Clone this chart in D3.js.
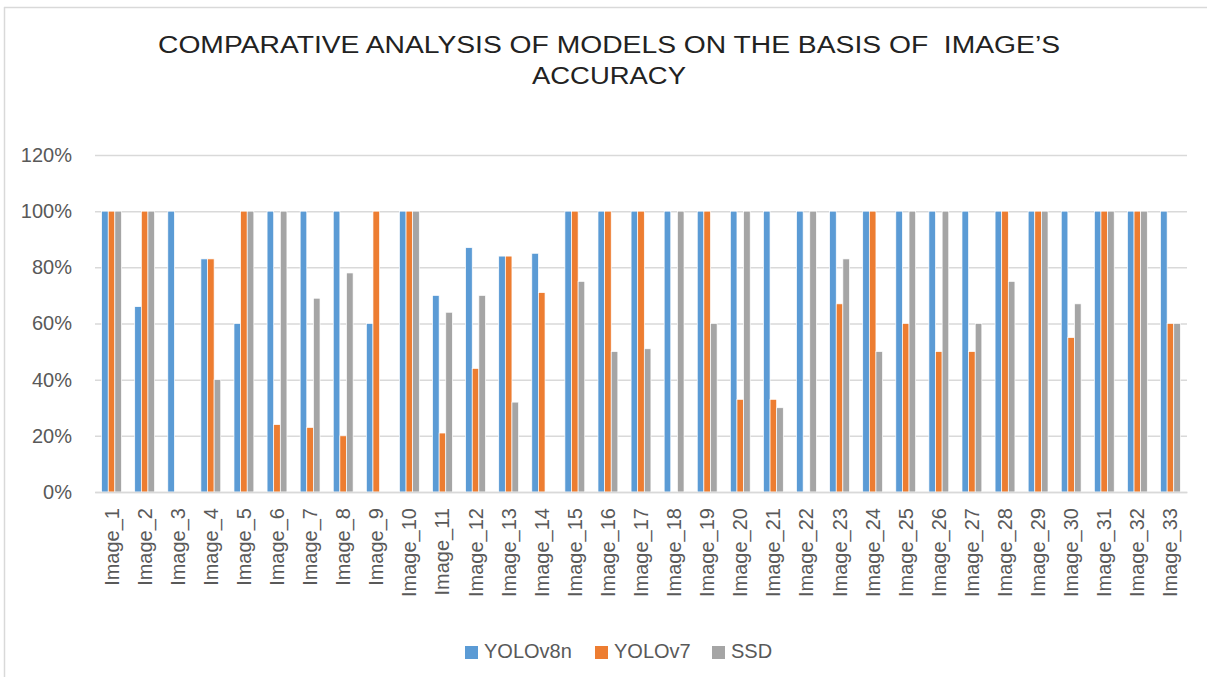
<!DOCTYPE html>
<html>
<head>
<meta charset="utf-8">
<script src="https://cdn.jsdelivr.net/npm/d3@7"></script>
<style>
  html, body { margin: 0; padding: 0; background: #fff; }
  svg { display: block; }
  text { font-family: "Liberation Sans", Arial, sans-serif; }
</style>
</head>
<body>
<svg id="chart" width="1207" height="677"></svg>
<script>
const categories = Array.from({length: 33}, (_, i) => "Image_" + (i + 1));
const seriesNames = ["YOLOv8n", "YOLOv7", "SSD"];
const yolov8n = [100, 66, 100, 83, 60, 100, 100, 100, 60, 100, 70, 87, 84, 85, 100, 100, 100, 100, 100, 100, 100, 100, 100, 100, 100, 100, 100, 100, 100, 100, 100, 100, 100];
const yolov7  = [100, 100, 0, 83, 100, 24, 23, 20, 100, 100, 21, 44, 84, 71, 100, 100, 100, 0, 100, 33, 33, 0, 67, 100, 60, 50, 50, 100, 100, 55, 100, 100, 60];
const ssd     = [100, 100, 0, 40, 100, 100, 69, 78, 0, 100, 64, 70, 32, 0, 75, 50, 51, 100, 60, 100, 30, 100, 83, 50, 100, 100, 60, 75, 100, 67, 100, 100, 60];
const yTicks = [0, 20, 40, 60, 80, 100, 120];
const colors = ["#5b9bd5", "#ed7d31", "#a5a5a5"];
const titleLines = ["COMPARATIVE ANALYSIS OF MODELS ON THE BASIS OF  IMAGE\u2019S", "ACCURACY"];
const titleWidths = [902, 154];

const svg = d3.select("#chart");
const seriesValues = [yolov8n, yolov7, ssd];

// frame
svg.append("line").attr("x1", 4).attr("x2", 1207).attr("y1", 7.5).attr("y2", 7.5)
  .attr("stroke", "#d9d9d9").attr("stroke-width", 1.5);
svg.append("line").attr("x1", 4.5).attr("x2", 4.5).attr("y1", 7).attr("y2", 677)
  .attr("stroke", "#d9d9d9").attr("stroke-width", 1.5);

// title
svg.append("g").selectAll("text").data(titleLines).join("text")
  .attr("x", 609).attr("y", (d, i) => 53 + i * 31)
  .attr("text-anchor", "middle")
  .attr("font-size", 23.5).attr("fill", "#222")
  .attr("textLength", (d, i) => titleWidths[i])
  .attr("lengthAdjust", "spacingAndGlyphs")
  .style("white-space", "pre")
  .text(d => d);

const y = d3.scaleLinear().domain([0, 120]).range([492, 155]);
const x = d3.scaleBand().domain(categories).range([95, 1187]).padding(0);
const xs = d3.scaleBand().domain(seriesNames)
  .range([x.bandwidth() * 0.2, x.bandwidth() * 0.8]).padding(0);

// gridlines
const yAxis = d3.axisLeft(y).tickValues(yTicks).tickSize(-(1187 - 95)).tickFormat(d => d + "%");
const gy = svg.append("g").attr("transform", "translate(95,0)").call(yAxis);
gy.select(".domain").remove();
gy.selectAll(".tick line").attr("stroke", "#d9d9d9").attr("stroke-width", 1.5);
gy.selectAll(".tick text").attr("x", -23).attr("font-size", 20).attr("fill", "#595959")
  .attr("font-family", "Liberation Sans, Arial, sans-serif");

// bars
const groups = svg.append("g").selectAll("g").data(categories).join("g")
  .attr("transform", d => `translate(${x(d)},0)`);
groups.selectAll("rect")
  .data((c, i) => seriesNames.map((s, k) => ({s, v: seriesValues[k][i], k})))
  .join("rect")
  .attr("x", d => xs(d.s))
  .attr("width", xs.bandwidth())
  .attr("y", d => y(d.v))
  .attr("height", d => y(0) - y(d.v))
  .attr("fill", d => colors[d.k])
  .attr("stroke", "#fff").attr("stroke-width", 0.7);

// x axis
const xAxis = d3.axisBottom(x).tickSize(0);
const gx = svg.append("g").attr("transform", "translate(0,492)").call(xAxis);
gx.select(".domain").attr("stroke", "#d9d9d9").attr("stroke-width", 1.5);
gx.selectAll(".tick text")
  .attr("font-size", 20).attr("fill", "#595959")
  .attr("font-family", "Liberation Sans, Arial, sans-serif")
  .attr("text-anchor", "end")
  .attr("transform", "rotate(-90)")
  .attr("x", -16).attr("y", 0).attr("dy", "0.35em");

// legend
const legendX = [465, 595, 712];
const lg = svg.append("g").selectAll("g").data(seriesNames).join("g")
  .attr("transform", (d, i) => `translate(${legendX[i]},646)`);
lg.append("rect").attr("width", 13).attr("height", 13).attr("fill", (d, i) => colors[i]);
lg.append("text").attr("x", 19).attr("y", 12).attr("font-size", 20).attr("fill", "#595959").text(d => d);
</script>
</body>
</html>
